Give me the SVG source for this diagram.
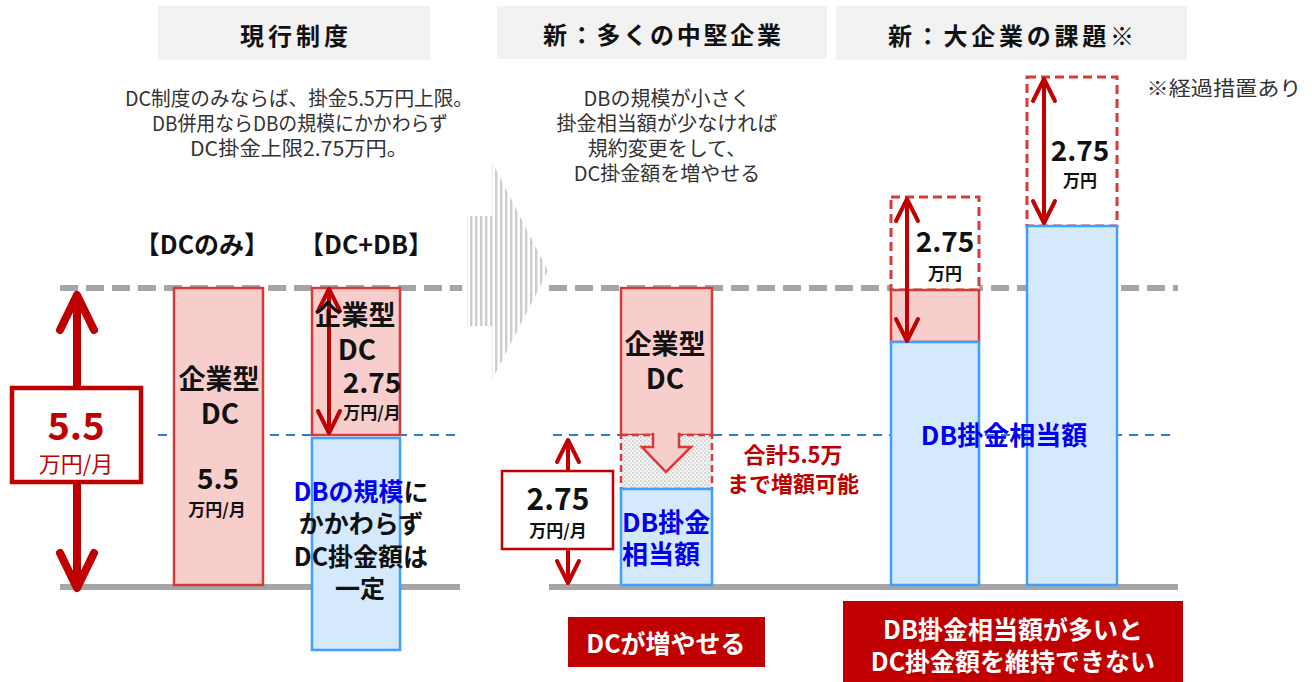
<svg xmlns="http://www.w3.org/2000/svg" width="1312" height="682" viewBox="0 0 1312 682">
<defs>
<style>
text{font-family:"Noto Sans CJK JP","Noto Sans",sans-serif;dominant-baseline:central;text-anchor:middle}
.hdr{font-size:24px;font-weight:bold;fill:#111}
.hbox{fill:#f2f2f2}
.desc{font-size:20px;fill:#333}
.b{font-weight:bold;fill:#111}
.pink{fill:#f8cecc;stroke:#d63b3b;stroke-width:2.5}
.blue{fill:#d5e9fd;stroke:#3fa0ff;stroke-width:2.5}
.dashbox{fill:#fff;stroke:#d63b3b;stroke-width:3;stroke-dasharray:9 5}
.arr{fill:none;stroke:#c00000;stroke-linecap:round;stroke-linejoin:round}
.red{fill:#c00000}
.wt{fill:#fff;font-weight:bold}
</style>
<pattern id="stripes" width="5" height="10" patternUnits="userSpaceOnUse"><rect width="5" height="10" fill="#fff"/><rect width="2.4" height="10" fill="#cdcdcd"/></pattern>
<pattern id="dots" width="4" height="4" patternUnits="userSpaceOnUse"><rect width="4" height="4" fill="#f3f3f3"/><circle cx="1" cy="1" r="0.8" fill="#b4b4b4"/><circle cx="3" cy="3" r="0.8" fill="#c8c8c8"/></pattern>
</defs>
<rect width="1312" height="682" fill="#fff"/>

<g id="headers">
<rect class="hbox" x="158" y="6" width="272" height="54"/>
<text class="hdr" x="294" y="34" textLength="108" lengthAdjust="spacing">現行制度</text>
<rect class="hbox" x="497" y="6" width="330" height="53"/>
<text class="hdr" x="662" y="33" textLength="238" lengthAdjust="spacing">新：多くの中堅企業</text>
<rect class="hbox" x="836" y="6" width="351" height="54"/>
<text class="hdr" x="1011" y="34" textLength="246" lengthAdjust="spacing">新：大企業の課題※</text>
</g>

<g id="descriptions">
<text class="desc" x="299" y="97" textLength="348" lengthAdjust="spacingAndGlyphs">DC制度のみならば、掛金5.5万円上限。</text>
<text class="desc" x="300" y="122" textLength="296" lengthAdjust="spacingAndGlyphs">DB併用ならDBの規模にかかわらず</text>
<text class="desc" x="299" y="147" textLength="218" lengthAdjust="spacingAndGlyphs">DC掛金上限2.75万円。</text>
<text class="desc" x="667" y="97">DBの規模が小さく</text>
<text class="desc" x="667" y="122" textLength="221" lengthAdjust="spacingAndGlyphs">掛金相当額が少なければ</text>
<text class="desc" x="667" y="147">規約変更をして、</text>
<text class="desc" x="667" y="172">DC掛金額を増やせる</text>
<text class="desc" x="1224" y="87" font-size="22" textLength="155" lengthAdjust="spacingAndGlyphs">※経過措置あり</text>
<text class="b" x="202" y="243" font-size="25">【DCのみ】</text>
<text class="b" x="366" y="243" font-size="25">【DC+DB】</text>
</g>

<g id="guides">
<line x1="60" y1="288" x2="462" y2="288" stroke="#a6a6a6" stroke-width="6" stroke-dasharray="18 8"/>
<line x1="549" y1="288" x2="1178" y2="288" stroke="#a6a6a6" stroke-width="6" stroke-dasharray="18 8"/>
<line x1="60" y1="587" x2="460" y2="587" stroke="#a6a6a6" stroke-width="6"/>
<line x1="549" y1="587" x2="1178" y2="587" stroke="#a6a6a6" stroke-width="6"/>
<line x1="158" y1="435" x2="456" y2="435" stroke="#2a7fd4" stroke-width="2" stroke-dasharray="9 7"/>
<line x1="553" y1="435" x2="1174" y2="435" stroke="#2a7fd4" stroke-width="2" stroke-dasharray="9 7"/>
</g>

<g id="flow-arrow">
<path d="M467,216 H492 V162 L548,271 L492,380 V326 H467 Z" fill="url(#stripes)"/>
</g>

<g id="bar-dc-only">
<rect class="pink" x="174" y="288" width="89" height="297"/>
<text class="b" x="219" y="377" font-size="27">企業型</text>
<text class="b" x="220" y="412" font-size="28">DC</text>
<text class="b" x="218" y="477" font-size="28">5.5</text>
<text class="b" x="217" y="508" font-size="17">万円/月</text>
</g>

<g id="bar-dc-db">
<rect class="pink" x="312" y="288" width="88" height="147"/>
<rect class="blue" x="312" y="438" width="88" height="212"/>
</g>

<g id="bar-mid">
<rect class="pink" x="621" y="288" width="91" height="147"/>
<rect x="621" y="435" width="91" height="54" fill="url(#dots)" stroke="#d63b3b" stroke-width="2.5" stroke-dasharray="7 4"/>
<polygon points="653,434 653,447 642,447 666,472 691,447 679,447 679,434" fill="#f8cecc" stroke="#d63b3b" stroke-width="2.5" stroke-linejoin="miter"/>
<rect x="654.3" y="432" width="23.4" height="4" fill="#f8cecc"/>
<rect class="blue" x="621" y="489" width="91" height="96"/>
<text class="b" x="665" y="342" font-size="27">企業型</text>
<text class="b" x="665" y="377" font-size="28">DC</text>
<text class="b" x="622" y="520" font-size="26" style="fill:#0000ee;text-anchor:start">DB掛金</text>
<text class="b" x="622" y="552" font-size="26" style="fill:#0000ee;text-anchor:start">相当額</text>
<text class="b" x="793" y="453" font-size="22" style="fill:#c00000">合計5.5万</text>
<text class="b" x="793" y="482" font-size="22" style="fill:#c00000">まで増額可能</text>
</g>

<g id="bar-large1">
<rect class="dashbox" x="891" y="197" width="88" height="93"/>
<rect class="pink" x="891" y="290" width="88" height="52"/>
<rect class="blue" x="891" y="342" width="88" height="243"/>
</g>

<g id="bar-large2">
<rect class="dashbox" x="1027" y="77" width="90" height="149"/>
<rect class="blue" x="1027" y="226" width="90" height="359"/>
</g>

<g id="connectors">
<line class="arr" x1="77" y1="297" x2="77" y2="586" stroke-width="8"/>
<polyline class="arr" points="60,330 77,295 94,330" stroke-width="8"/>
<polyline class="arr" points="60,553 77,588 94,553" stroke-width="8"/>
<line class="arr" x1="329" y1="290" x2="329" y2="431" stroke-width="4"/>
<polyline class="arr" points="318,311 329,289 340,311" stroke-width="4"/>
<polyline class="arr" points="318,411 329,433 340,411" stroke-width="4"/>
<line class="arr" x1="568" y1="441" x2="568" y2="581" stroke-width="4"/>
<polyline class="arr" points="557,462 568,440 579,462" stroke-width="4"/>
<polyline class="arr" points="557,561 568,583 579,561" stroke-width="4"/>
<line class="arr" x1="907" y1="200" x2="907" y2="339" stroke-width="4"/>
<polyline class="arr" points="896,221 907,199 918,221" stroke-width="4"/>
<polyline class="arr" points="896,319 907,341 918,319" stroke-width="4"/>
<line class="arr" x1="1044" y1="80" x2="1044" y2="221" stroke-width="4"/>
<polyline class="arr" points="1033,101 1044,79 1055,101" stroke-width="4"/>
<polyline class="arr" points="1033,201 1044,223 1055,201" stroke-width="4"/>
</g>

<g id="bar-dc-db-labels">
<text class="b" x="355" y="313" font-size="27">企業型</text>
<text class="b" x="357" y="348" font-size="28">DC</text>
<text class="b" x="372" y="381" font-size="28">2.75</text>
<text class="b" x="372" y="411" font-size="17">万円/月</text>
<text class="b" x="361" y="490" font-size="25"><tspan style="fill:#0000ee">DBの規模</tspan>に</text>
<text class="b" x="361" y="522" font-size="25">かかわらず</text>
<text class="b" x="361" y="555" font-size="25">DC掛金額は</text>
<text class="b" x="360" y="587" font-size="25">一定</text>
</g>

<g id="large-labels">
<text class="b" x="945" y="240" font-size="28">2.75</text>
<text class="b" x="945" y="272" font-size="17">万円</text>
<text class="b" x="1080" y="149" font-size="28">2.75</text>
<text class="b" x="1080" y="179" font-size="17">万円</text>
<text class="b" x="1004" y="433" font-size="26" style="fill:#0000ee">DB掛金相当額</text>
</g>

<g id="box-5-5">
<rect x="12" y="388" width="129" height="94" fill="#fff" stroke="#c00000" stroke-width="4.5"/>
<text class="b" x="76" y="423" font-size="38" style="fill:#c00000">5.5</text>
<text x="76" y="462" font-size="22" fill="#c00000">万円/月</text>
</g>

<g id="box-2-75">
<rect x="502" y="471" width="111" height="78" fill="#fff" stroke="#c00000" stroke-width="2.5"/>
<text class="b" x="558" y="497" font-size="30">2.75</text>
<text class="b" x="558" y="529" font-size="17">万円/月</text>
</g>

<g id="label-increase">
<rect class="red" x="568" y="617" width="197" height="50"/>
<text class="wt" x="666" y="642" font-size="25">DCが増やせる</text>
</g>

<g id="label-cannot">
<rect class="red" x="843" y="601" width="340" height="81"/>
<text class="wt" x="1013" y="628" font-size="25">DB掛金相当額が多いと</text>
<text class="wt" x="1013" y="660" font-size="25">DC掛金額を維持できない</text>
</g>
</svg>
